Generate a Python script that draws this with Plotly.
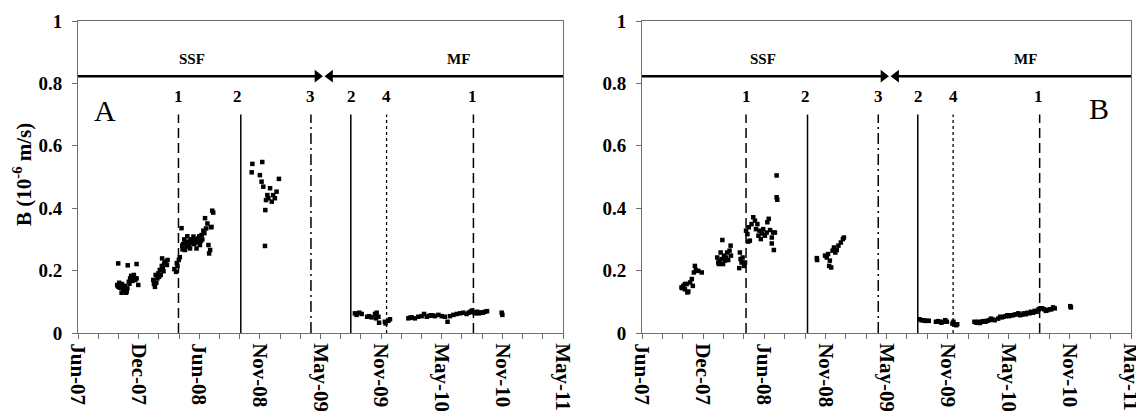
import pandas as pd
import plotly.graph_objects as go

# ---------------- data ----------------
tick_dates = ["2007-06-13", "2007-12-08", "2008-06-03", "2008-11-28", "2009-05-25",
              "2009-11-19", "2010-05-16", "2010-11-10", "2011-05-07"]
tick_labels = ["Jun-07", "Dec-07", "Jun-08", "Nov-08", "May-09",
               "Nov-09", "May-10", "Nov-10", "May-11"]
y_ticks = [0, 0.2, 0.4, 0.6, 0.8, 1]

a_dates = [
    "2007-10-06", "2007-10-08", "2007-10-09", "2007-10-10", "2007-10-12", "2007-10-14", "2007-10-16",
    "2007-10-19", "2007-10-20", "2007-10-22", "2007-10-24", "2007-10-26", "2007-10-28", "2007-10-30",
    "2007-11-01", "2007-11-03", "2007-11-05", "2007-11-06", "2007-11-09", "2007-11-11", "2007-11-13",
    "2007-11-16", "2007-11-18", "2007-11-20", "2007-11-24", "2007-11-26", "2007-11-28", "2007-12-02",
    "2007-12-02", "2007-12-07",
    "2008-01-20", "2008-01-22", "2008-01-25", "2008-01-27", "2008-01-29", "2008-02-01", "2008-02-04",
    "2008-02-06", "2008-02-08", "2008-02-11", "2008-02-14", "2008-02-15", "2008-02-17", "2008-02-19",
    "2008-02-21", "2008-02-25", "2008-02-29", "2008-03-02",
    "2008-03-22", "2008-03-27", "2008-03-29", "2008-03-31", "2008-04-04", "2008-04-07",
    "2008-04-12", "2008-04-14", "2008-04-15", "2008-04-17", "2008-04-20", "2008-04-22", "2008-04-24",
    "2008-04-27", "2008-04-29", "2008-05-02", "2008-05-04", "2008-05-07", "2008-05-09", "2008-05-12",
    "2008-05-14", "2008-05-17", "2008-05-19", "2008-05-21", "2008-05-24", "2008-05-26", "2008-05-29",
    "2008-05-31", "2008-06-03", "2008-06-05", "2008-06-08", "2008-06-10", "2008-06-12", "2008-06-15",
    "2008-06-18", "2008-06-20", "2008-06-23", "2008-06-27", "2008-06-30", "2008-07-02", "2008-07-05",
    "2008-07-07", "2008-07-09", "2008-07-11", "2008-07-14",
    "2008-11-04", "2008-11-06", "2008-11-28", "2008-12-03", "2008-12-05", "2008-12-08", "2008-12-13",
    "2008-12-14", "2008-12-16", "2008-12-20", "2008-12-23", "2008-12-28", "2009-01-02", "2009-01-06",
    "2009-01-11", "2009-01-16", "2009-01-23",
    "2009-09-03", "2009-09-08", "2009-09-16", "2009-09-23", "2009-10-09", "2009-10-15", "2009-10-22",
    "2009-11-01", "2009-11-04", "2009-11-06", "2009-11-11", "2009-11-13", "2009-11-30", "2009-12-02",
    "2009-12-10", "2009-12-15",
    "2010-02-07", "2010-02-12", "2010-02-17", "2010-02-26", "2010-03-08", "2010-03-18", "2010-03-25",
    "2010-04-02", "2010-04-08", "2010-04-14", "2010-04-20", "2010-04-26", "2010-05-06", "2010-05-16",
    "2010-05-25", "2010-06-02", "2010-06-09", "2010-06-19", "2010-06-29", "2010-07-09", "2010-07-18",
    "2010-07-28", "2010-08-03", "2010-08-08", "2010-08-13", "2010-08-18", "2010-08-23", "2010-08-28",
    "2010-09-02", "2010-09-08", "2010-09-14", "2010-09-20", "2010-09-26", "2010-11-08", "2010-11-10",
]
a_vals = [
    0.154, 0.151, 0.223, 0.148, 0.161, 0.145, 0.146,
    0.129, 0.157, 0.150, 0.140, 0.135, 0.151, 0.138,
    0.129, 0.133, 0.143, 0.217, 0.164, 0.158, 0.175,
    0.183, 0.180, 0.167, 0.186, 0.176, 0.170, 0.175,
    0.221, 0.154,
    0.170, 0.157, 0.148, 0.186, 0.161, 0.175, 0.191,
    0.180, 0.202, 0.186, 0.215, 0.239, 0.207, 0.198,
    0.223, 0.229, 0.218, 0.234,
    0.205, 0.196, 0.224, 0.215, 0.234, 0.243,
    0.336, 0.280, 0.268, 0.285, 0.300, 0.266, 0.290,
    0.277, 0.310, 0.293, 0.280, 0.271, 0.300, 0.288,
    0.295, 0.309, 0.285, 0.298, 0.300, 0.271, 0.290,
    0.303, 0.310, 0.282, 0.295, 0.314, 0.300, 0.328,
    0.320, 0.368, 0.335, 0.351, 0.282, 0.255, 0.266,
    0.339, 0.340, 0.392, 0.386,
    0.515, 0.542, 0.506, 0.485, 0.548, 0.469, 0.279,
    0.394, 0.426, 0.442, 0.432, 0.464, 0.421, 0.442,
    0.432, 0.453, 0.494,
    0.063, 0.058, 0.065, 0.061, 0.052, 0.054, 0.050,
    0.061, 0.047, 0.065, 0.052, 0.033, 0.036, 0.031,
    0.039, 0.044,
    0.047, 0.049, 0.050, 0.047, 0.052, 0.054, 0.061,
    0.052, 0.055, 0.057, 0.056, 0.054, 0.058, 0.054,
    0.052, 0.036, 0.054, 0.058, 0.061, 0.063, 0.065,
    0.061, 0.065, 0.068, 0.072, 0.066, 0.063, 0.068,
    0.063, 0.066, 0.065, 0.068, 0.070, 0.065, 0.058,
]

b_dates = [
    "2007-10-06", "2007-10-08", "2007-10-11", "2007-10-16", "2007-10-16", "2007-10-21", "2007-10-23",
    "2007-10-26", "2007-10-31", "2007-11-05", "2007-11-08", "2007-11-11", "2007-11-14", "2007-11-17",
    "2007-11-24", "2007-12-04",
    "2008-01-18", "2008-01-21", "2008-01-23", "2008-01-25", "2008-01-28", "2008-01-31", "2008-02-02",
    "2008-02-04", "2008-02-07", "2008-02-10", "2008-02-13", "2008-02-16", "2008-02-19", "2008-02-23",
    "2008-02-26", "2008-02-27",
    "2008-03-22", "2008-03-24", "2008-03-26", "2008-03-29", "2008-04-01", "2008-04-05", "2008-04-08",
    "2008-04-11", "2008-04-15", "2008-04-17", "2008-04-19", "2008-04-22", "2008-04-27", "2008-05-02",
    "2008-05-07", "2008-05-10", "2008-05-14", "2008-05-17", "2008-05-20", "2008-05-24", "2008-05-27",
    "2008-05-31", "2008-06-05", "2008-06-10", "2008-06-12", "2008-06-16", "2008-06-20", "2008-06-25",
    "2008-06-25", "2008-06-29", "2008-07-01", "2008-07-04", "2008-07-09", "2008-07-09", "2008-07-11",
    "2008-11-03", "2008-11-04", "2008-11-27", "2008-12-02", "2008-12-06", "2008-12-09", "2008-12-11",
    "2008-12-15", "2008-12-19", "2008-12-23", "2008-12-27", "2008-12-31", "2009-01-05", "2009-01-12",
    "2009-01-18", "2009-01-21",
    "2009-08-29", "2009-09-04", "2009-09-09", "2009-09-14", "2009-09-20", "2009-09-25", "2009-10-16",
    "2009-10-22", "2009-10-27", "2009-11-01", "2009-11-07", "2009-11-12", "2009-11-17", "2009-12-03",
    "2009-12-06", "2009-12-09", "2009-12-14", "2009-12-17",
    "2010-02-05", "2010-02-10", "2010-02-15", "2010-02-21", "2010-02-26", "2010-03-03", "2010-03-09",
    "2010-03-14", "2010-03-20", "2010-03-25", "2010-03-30", "2010-04-05", "2010-04-15", "2010-04-21",
    "2010-04-26", "2010-05-01", "2010-05-07", "2010-05-12", "2010-05-17", "2010-05-23", "2010-05-28",
    "2010-06-02", "2010-06-08", "2010-06-13", "2010-06-18", "2010-06-24", "2010-06-29", "2010-07-04",
    "2010-07-10", "2010-07-15", "2010-07-20", "2010-07-26", "2010-07-31", "2010-08-05", "2010-08-11",
    "2010-08-16", "2010-08-21", "2010-08-27", "2010-09-01", "2010-09-06", "2010-09-12", "2010-09-17",
    "2010-09-22", "2010-09-27", "2010-11-11", "2010-11-13",
]
b_vals = [
    0.146, 0.144, 0.151, 0.140, 0.157, 0.157, 0.130,
    0.133, 0.162, 0.173, 0.151, 0.194, 0.215, 0.202,
    0.199, 0.194,
    0.242, 0.226, 0.221, 0.231, 0.258, 0.237, 0.298,
    0.221, 0.248, 0.232, 0.242, 0.258, 0.234, 0.264,
    0.280, 0.248,
    0.208, 0.258, 0.237, 0.226, 0.242, 0.215, 0.226,
    0.328, 0.317, 0.293, 0.339, 0.296, 0.349, 0.371,
    0.360, 0.333, 0.349, 0.312, 0.328, 0.301, 0.319,
    0.333, 0.312, 0.322, 0.355, 0.366, 0.330, 0.306,
    0.287, 0.322, 0.266, 0.322, 0.505, 0.435, 0.427,
    0.240, 0.234, 0.248, 0.242, 0.253, 0.215, 0.232,
    0.210, 0.264, 0.274, 0.258, 0.266, 0.280, 0.290,
    0.301, 0.306,
    0.044, 0.041, 0.041, 0.039, 0.039, 0.039, 0.036,
    0.038, 0.036, 0.033, 0.036, 0.041, 0.036, 0.030,
    0.036, 0.027, 0.025, 0.028,
    0.036, 0.033, 0.036, 0.032, 0.036, 0.038, 0.036,
    0.039, 0.041, 0.046, 0.043, 0.041, 0.046, 0.052,
    0.050, 0.052, 0.054, 0.057, 0.054, 0.057, 0.057,
    0.059, 0.060, 0.063, 0.057, 0.059, 0.063, 0.060,
    0.065, 0.063, 0.068, 0.065, 0.071, 0.068, 0.076,
    0.079, 0.079, 0.076, 0.071, 0.073, 0.076, 0.076,
    0.082, 0.079, 0.086, 0.082,
]

event_labels = ["1", "2", "3", "2", "4", "1"]
a_event_dates = ["2008-04-03", "2008-10-03", "2009-04-27", "2009-08-22", "2009-12-05", "2010-08-17"]
b_event_dates = ["2008-04-11", "2008-10-07", "2009-05-01", "2009-08-24", "2009-12-05", "2010-08-14"]
a_event_label_dates = ["2008-04-03", "2008-09-23", "2009-04-25", "2009-08-24", "2009-12-05", "2010-08-15"]
b_event_label_dates = ["2008-04-11", "2008-09-30", "2009-05-01", "2009-08-27", "2009-12-06", "2010-08-11"]
event_top = 0.7
event_label_y = 0.758

phase_labels = ["SSF", "MF"]
a_phase_label_dates = ["2008-05-14", "2010-07-05"]
b_phase_label_dates = ["2008-05-31", "2010-07-04"]
phase_label_y = 0.878
phase_arrow_tips = ["2009-05-16", "2009-06-22"]
phase_arrow_y = 0.823

panel_letters = ["A", "B"]
panel_letter_dates = ["2007-08-31", "2011-02-04"]
panel_letter_y = [0.713, 0.721]

y_title = "B (10<sup>-6</sup> m/s)"

# ---------------- layout / styles ----------------
# the page body adds an 8px margin, so the figure is placed 8px in from the window corner
OFF = 8
FIG_W, FIG_H = 1144 - OFF, 411 - OFF


def px_x(p):
    return (p - OFF) / FIG_W


def px_y(p):
    return (FIG_H - (p - OFF)) / FIG_H


event_dash = ["10px,5px", "solid", "11px,4px,2px,4px", "solid", "dot", "10px,5px"]
event_width = [1.5, 1.5, 1.5, 1.5, 1.3, 1.5]
FONT = "Liberation Serif"
AXC = "#6e6e6e"

td = pd.to_datetime(tick_dates)
minor_vals = []
for t0, t1 in zip(td[:-1], td[1:]):
    step = (t1 - t0) / 3
    minor_vals += [(t0 + step).strftime("%Y-%m-%d %H:%M"), (t0 + 2 * step).strftime("%Y-%m-%d %H:%M")]

YDOM = [px_y(333), px_y(21)]


def xaxis(domain, anchor):
    return dict(domain=domain, anchor=anchor, type="date", automargin=False,
                range=[tick_dates[0], tick_dates[-1]],
                tickmode="array", tickvals=tick_dates, ticktext=tick_labels, tickangle=90,
                ticks="outside", ticklen=5, tickwidth=1, tickcolor=AXC,
                minor=dict(tickmode="array", tickvals=minor_vals, ticks="outside",
                           ticklen=5, tickwidth=1, tickcolor=AXC),
                showline=True, linecolor=AXC, linewidth=1, mirror=True,
                showgrid=False, zeroline=False,
                tickfont=dict(family=FONT, size=21, color="black", weight="bold"))


def yaxis(anchor):
    return dict(domain=YDOM, anchor=anchor, range=[0, 1], automargin=False,
                tickmode="array", tickvals=y_ticks,
                ticktext=[("%g" % v) for v in y_ticks],
                ticks="outside", ticklen=5, tickwidth=1, tickcolor=AXC,
                showline=True, linecolor=AXC, linewidth=1, mirror=True,
                showgrid=False, zeroline=False, ticklabelstandoff=6,
                tickfont=dict(family=FONT, size=19, color="black", weight="bold"))


def arrow_trace(x, y, symbol, xr, yr):
    return go.Scatter(x=[x], y=[y], mode="markers", xaxis=xr, yaxis=yr, cliponaxis=False,
                      marker=dict(symbol=symbol, size=11, color="black", line=dict(width=0)),
                      showlegend=False, hoverinfo="skip")


fig = go.Figure()
fig.add_trace(go.Scatter(x=a_dates, y=a_vals, mode="markers", xaxis="x", yaxis="y",
                         marker=dict(symbol="square", size=4.5, color="black", line=dict(width=0)),
                         showlegend=False, hoverinfo="x+y"))
fig.add_trace(go.Scatter(x=b_dates, y=b_vals, mode="markers", xaxis="x2", yaxis="y2",
                         marker=dict(symbol="square", size=4.5, color="black", line=dict(width=0)),
                         showlegend=False, hoverinfo="x+y"))

shapes = []
annotations = []
panels = [("x", "y", a_event_dates, a_event_label_dates, a_phase_label_dates),
          ("x2", "y2", b_event_dates, b_event_label_dates, b_phase_label_dates)]
for i, (xr, yr, ev_dates, ev_lab_dates, ph_dates) in enumerate(panels):
    for d, ld, lab, dash, w in zip(ev_dates, ev_lab_dates, event_labels, event_dash, event_width):
        shapes.append(dict(type="line", xref=xr, yref=yr, x0=d, x1=d, y0=0, y1=event_top,
                           line=dict(color="black", width=w, dash=dash)))
        annotations.append(dict(xref=xr, yref=yr, x=ld, y=event_label_y, text="<b>%s</b>" % lab,
                                showarrow=False, font=dict(family=FONT, size=17, color="black")))
    for d, lab in zip(ph_dates, phase_labels):
        annotations.append(dict(xref=xr, yref=yr, x=d, y=phase_label_y, text="<b>%s</b>" % lab,
                                showarrow=False, font=dict(family=FONT, size=15, color="black")))
    # SSF arrow: from left edge to tip ; MF arrow: from right edge to tip
    shapes.append(dict(type="line", xref=xr, yref=yr, x0=tick_dates[0], x1=phase_arrow_tips[0],
                       y0=phase_arrow_y, y1=phase_arrow_y, line=dict(color="black", width=2.6)))
    shapes.append(dict(type="line", xref=xr, yref=yr, x0=phase_arrow_tips[1], x1=tick_dates[-1],
                       y0=phase_arrow_y, y1=phase_arrow_y, line=dict(color="black", width=2.6)))
    fig.add_trace(arrow_trace(phase_arrow_tips[0], phase_arrow_y, "triangle-right", xr, yr))
    fig.add_trace(arrow_trace(phase_arrow_tips[1], phase_arrow_y, "triangle-left", xr, yr))
    annotations.append(dict(xref=xr, yref=yr, x=panel_letter_dates[i], y=panel_letter_y[i],
                            text=panel_letters[i], showarrow=False,
                            font=dict(family=FONT, size=30, color="black")))

annotations.append(dict(xref="paper", yref="paper", x=px_x(22), y=px_y(175),
                        xanchor="center", yanchor="middle",
                        text="<b>%s</b>" % y_title, textangle=-90, showarrow=False,
                        font=dict(family=FONT, size=21, color="black")))

fig.update_layout(
    width=FIG_W, height=FIG_H,
    margin=dict(l=0, r=0, t=0, b=0, autoexpand=False),
    paper_bgcolor="white", plot_bgcolor="white",
    xaxis=xaxis([px_x(78), px_x(563)], "y"),
    yaxis=yaxis("x"),
    xaxis2=xaxis([px_x(642), px_x(1131)], "y2"),
    yaxis2=yaxis("x2"),
    shapes=shapes,
    annotations=annotations,
    showlegend=False,
)

fig.write_html("out.html")
